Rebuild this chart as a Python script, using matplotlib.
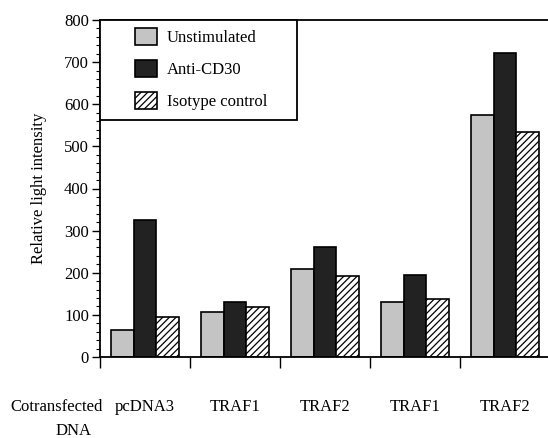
import numpy as np
import matplotlib
matplotlib.use("Agg")
import matplotlib.pyplot as plt
from matplotlib.patches import Rectangle
from matplotlib.ticker import MultipleLocator, FixedLocator

groups = ["pcDNA3", "TRAF1", "TRAF2", "TRAF1", "TRAF2"]
series = ["Unstimulated", "Anti-CD30", "Isotype control"]
unstimulated = [64, 106, 208, 130, 574]
anti_cd30 = [325, 130, 260, 195, 722]
isotype = [95, 118, 192, 138, 535]

plt.rcParams["font.family"] = ["Liberation Serif", "DejaVu Serif"]
plt.rcParams["hatch.linewidth"] = 0.9

fig = plt.figure(figsize=(5.48, 4.38), dpi=100)
ax = fig.add_axes([100 / 548, 81 / 438, 448 / 548, 337 / 438])

x = np.arange(len(groups))
w = 0.25
styles = [
    dict(facecolor="#c4c4c4", hatch=None),
    dict(facecolor="#222222", hatch=None),
    dict(facecolor="white", hatch="/////"),
]
for i, (vals, name) in enumerate(zip([unstimulated, anti_cd30, isotype], series)):
    ax.bar(x + (i - 1) * w, vals, w, label=name, edgecolor="black",
           linewidth=1.2, **styles[i])

ax.set_xlim(-0.5, 4.478)
ax.set_ylim(0, 800)

ax.spines["right"].set_visible(False)
for s in ["left", "top", "bottom"]:
    ax.spines[s].set_linewidth(1.3)

ax.yaxis.set_major_locator(MultipleLocator(100))
ax.yaxis.set_minor_locator(MultipleLocator(20))
ax.tick_params(axis="y", which="major", length=6, width=1, labelsize=12, pad=2)
ax.tick_params(axis="y", which="minor", length=3, width=0.8)

ax.set_xticks(x)
ax.set_xticklabels(groups)
ax.xaxis.set_minor_locator(FixedLocator(np.arange(-0.5, 5, 1.0)))
ax.tick_params(axis="x", which="major", length=0, labelsize=12, pad=30)
ax.tick_params(axis="x", which="minor", length=8, width=1, direction="out")

ax.set_ylabel("Relative light intensity", fontsize=12, labelpad=12)

fig.text(10 / 548, 1 - 407 / 438, "Cotransfected", fontsize=12, va="center", ha="left")
fig.text(74 / 548, 1 - 431 / 438, "DNA", fontsize=12, va="center", ha="center")

# legend without its own frame, boxed by a rectangle tied to the top-left corner
leg = ax.legend(loc="upper left", bbox_to_anchor=(35 / 448, 1 - 8 / 337),
                borderaxespad=0, frameon=False, fontsize=12,
                handlelength=1.32, handleheight=1.2, handletextpad=0.6,
                labelspacing=0.82, borderpad=0)
box_bottom = (357 - 120) / 337
ax.add_patch(Rectangle((0, box_bottom), 197 / 448, 1 - box_bottom,
                       transform=ax.transAxes, fill=True, facecolor="white",
                       edgecolor="black", linewidth=1.3, zorder=4, clip_on=False))
leg.set_zorder(5)

fig.savefig("out.png", dpi=100)
